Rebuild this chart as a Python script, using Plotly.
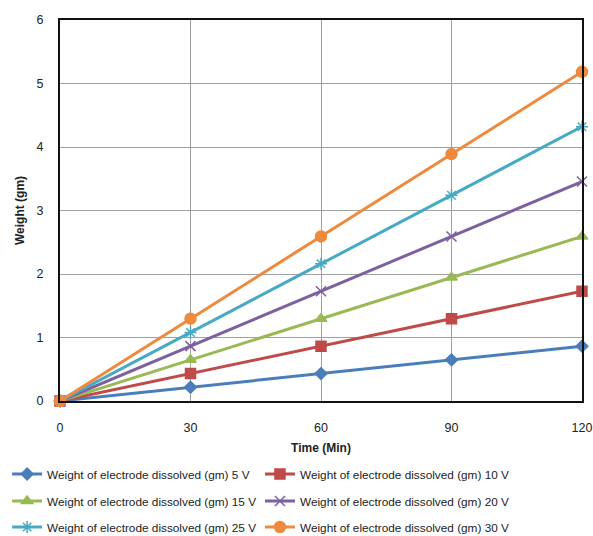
import plotly.graph_objects as go

# Time points (minutes)
time_min = [0, 30, 60, 90, 120]

# Weight of electrode dissolved (gm) at each applied voltage
w_5v = [0, 0.216, 0.432, 0.648, 0.864]
w_10v = [0, 0.432, 0.864, 1.296, 1.728]
w_15v = [0, 0.648, 1.296, 1.944, 2.592]
w_20v = [0, 0.864, 1.728, 2.592, 3.456]
w_25v = [0, 1.08, 2.16, 3.24, 4.32]
w_30v = [0, 1.296, 2.592, 3.888, 5.184]

x_ticks = [0, 30, 60, 90, 120]
y_ticks = [0, 1, 2, 3, 4, 5, 6]

# (label, values, colour, marker, size)
series = [
    ("Weight of electrode dissolved (gm) 5 V", w_5v, "#4A7EBB", "diamond", 9),
    ("Weight of electrode dissolved (gm) 10 V", w_10v, "#BE4B48", "square", 10),
    ("Weight of electrode dissolved (gm) 15 V", w_15v, "#98B954", "triangle-up", 10),
    ("Weight of electrode dissolved (gm) 20 V", w_20v, "#7D60A0", "x-thin-open", 10),
    ("Weight of electrode dissolved (gm) 25 V", w_25v, "#46AAC5", "asterisk-open", 10),
    ("Weight of electrode dissolved (gm) 30 V", w_30v, "#EE8A3E", "circle", 11),
]

FONT = "Liberation Sans"

# legend grid: two columns, three rows beneath the plot (container fractions)
col_x = [0.012, 0.4384]
row_y = [1 - 474 / 536, 1 - 501 / 536, 1 - 527 / 536]

fig = go.Figure()
legends = {}
for i, (name, vals, color, sym, size) in enumerate(series):
    key = "legend" if i == 0 else f"legend{i + 1}"
    fig.add_trace(go.Scatter(
        x=time_min, y=vals, name=name, mode="lines+markers",
        line=dict(color=color, width=3),
        marker=dict(symbol=sym, size=size, color=color,
                    line=dict(color=color, width=1.5)),
        cliponaxis=False, legend=key,
    ))
    legends[key] = dict(
        orientation="h", xref="container", yref="container",
        x=col_x[i % 2], y=row_y[i // 2], xanchor="left", yanchor="middle",
        font=dict(family=FONT, size=11.8, color="#222222"),
        itemwidth=30, bgcolor="rgba(0,0,0,0)",
    )

fig.update_layout(
    width=593, height=536,
    margin=dict(l=60, r=11, t=20, b=135, autoexpand=False),
    paper_bgcolor="white", plot_bgcolor="white",
    font=dict(family=FONT, size=12, color="#222222"),
    showlegend=True,
    xaxis=dict(
        range=[0, 120], tickvals=x_ticks, ticktext=[str(v) for v in x_ticks],
        showgrid=True, gridcolor="#A0A0A0", gridwidth=1,
        showline=True, linecolor="#111111", linewidth=2, mirror=True,
        zeroline=False, ticks="", ticklabelstandoff=14, automargin=False,
        tickfont=dict(size=12.5),
        title=dict(text="<b>Time (Min)</b>", font=dict(size=12), standoff=10),
    ),
    yaxis=dict(
        range=[0, 6], tickvals=y_ticks, ticktext=[str(v) for v in y_ticks],
        showgrid=True, gridcolor="#A0A0A0", gridwidth=1,
        showline=True, linecolor="#111111", linewidth=2, mirror=True,
        zeroline=False, ticks="", ticklabelstandoff=12, automargin=False,
        tickfont=dict(size=12.5),
        title=dict(text="<b>Weight (gm)</b>", font=dict(size=12), standoff=9),
    ),
    **legends,
)

fig.write_html("out.html")
